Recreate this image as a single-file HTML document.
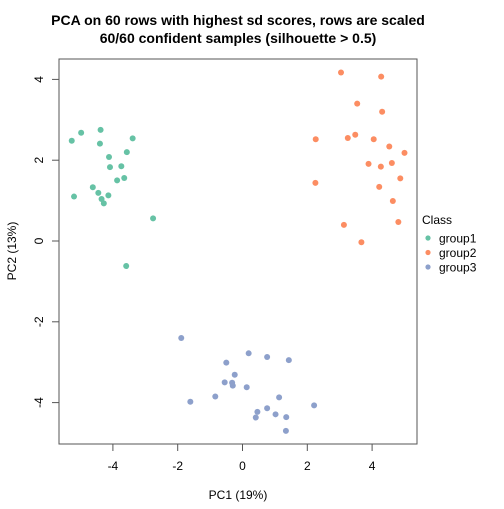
<!DOCTYPE html>
<html><head><meta charset="utf-8"><style>
body{margin:0;background:#fff}
svg text{font-family:"Liberation Sans",Arial,sans-serif;fill:#000}
</style></head><body>
<svg id="chart" width="504" height="504" viewBox="0 0 504 504">
<text x="238" y="25" text-anchor="middle" font-size="14" font-weight="bold">PCA on 60 rows with highest sd scores, rows are scaled</text>
<text x="238" y="43" text-anchor="middle" font-size="14" font-weight="bold">60/60 confident samples (silhouette &gt; 0.5)</text>
<rect x="59" y="59" width="358" height="385" fill="none" stroke="#555" stroke-width="1"/>
<g id="xticks"></g>
<g id="yticks"></g>
<text x="238" y="499" text-anchor="middle" font-size="12">PC1 (19%)</text>
<text transform="translate(16,251) rotate(-90)" text-anchor="middle" font-size="12">PC2 (13%)</text>
<g id="points"></g>
<g id="legend">
<text x="422" y="224" font-size="12">Class</text>
</g>
</svg>
<script>
const xTicks=[-4,-2,0,2,4];
const yTicks=[-4,-2,0,2,4];
const groups=["group1","group2","group3"];
const colors=["#66C2A5","#FC8D62","#8DA0CB"];
const g1x=[-5.27,-4.98,-4.38,-4.40,-3.39,-3.57,-4.12,-4.09,-3.74,-3.87,-3.65,-4.62,-4.45,-4.14,-4.35,-4.28,-5.20,-2.76,-3.59];
const g1y=[2.48,2.68,2.75,2.41,2.54,2.20,2.08,1.83,1.85,1.50,1.56,1.33,1.19,1.13,1.04,0.93,1.10,0.56,-0.62];
const g2x=[3.04,4.28,3.54,4.31,2.26,3.25,3.48,4.05,4.53,5.00,3.89,4.27,4.61,4.87,2.25,4.22,4.64,3.13,4.81,3.67];
const g2y=[4.17,4.07,3.40,3.20,2.52,2.55,2.63,2.52,2.34,2.18,1.91,1.84,1.93,1.55,1.44,1.34,0.99,0.40,0.47,-0.03];
const g3x=[-1.89,0.19,0.76,1.43,-0.50,-0.24,-0.55,-0.32,-0.30,0.13,-0.84,1.13,-1.61,2.21,0.76,0.46,1.02,1.35,0.41,1.34];
const g3y=[-2.40,-2.78,-2.87,-2.95,-3.01,-3.31,-3.50,-3.51,-3.58,-3.62,-3.85,-3.87,-3.98,-4.07,-4.14,-4.23,-4.29,-4.36,-4.37,-4.70];
const NS="http://www.w3.org/2000/svg";
const sx=v=>242.5+v*32.4;
const sy=v=>241+v*(-40.4);
function mk(t,a,p){const e=document.createElementNS(NS,t);for(const k in a)e.setAttribute(k,a[k]);p.appendChild(e);return e;}
const xg=document.getElementById('xticks');
xTicks.forEach(v=>{
 const l=mk('line',{x1:sx(v),x2:sx(v),y1:444,y2:451,stroke:'#555'},xg);
 
 
 const t=mk('text',{x:sx(v),y:470,'text-anchor':'middle','font-size':12},xg);
 t.textContent=v;
 
 
});
const yg=document.getElementById('yticks');
yTicks.forEach(v=>{
 const l=mk('line',{x1:52,x2:59,y1:sy(v),y2:sy(v),stroke:'#555'},yg);
 
 
 const t=mk('text',{transform:`translate(43,${sy(v)}) rotate(-90)`,'text-anchor':'middle','font-size':12},yg);
 t.textContent=v;
 
 
});
const pg=document.getElementById('points');
[[g1x,g1y],[g2x,g2y],[g3x,g3y]].forEach((s,gi)=>{
 s[0].forEach((x,i)=>{
  const c=mk('circle',{cx:sx(x),cy:sy(s[1][i]),r:3,fill:colors[gi]},pg);
  
  
 });
});
const lg=document.getElementById('legend');
groups.forEach((g,i)=>{
 const y=238+i*14.5;
 const c=mk('circle',{cx:428,cy:y,r:2.6,fill:colors[i]},lg);
 
 
 const t=mk('text',{x:439,y:y+4.5,'font-size':12},lg);
 t.textContent=g;
 
 
});
</script>
</body></html>
